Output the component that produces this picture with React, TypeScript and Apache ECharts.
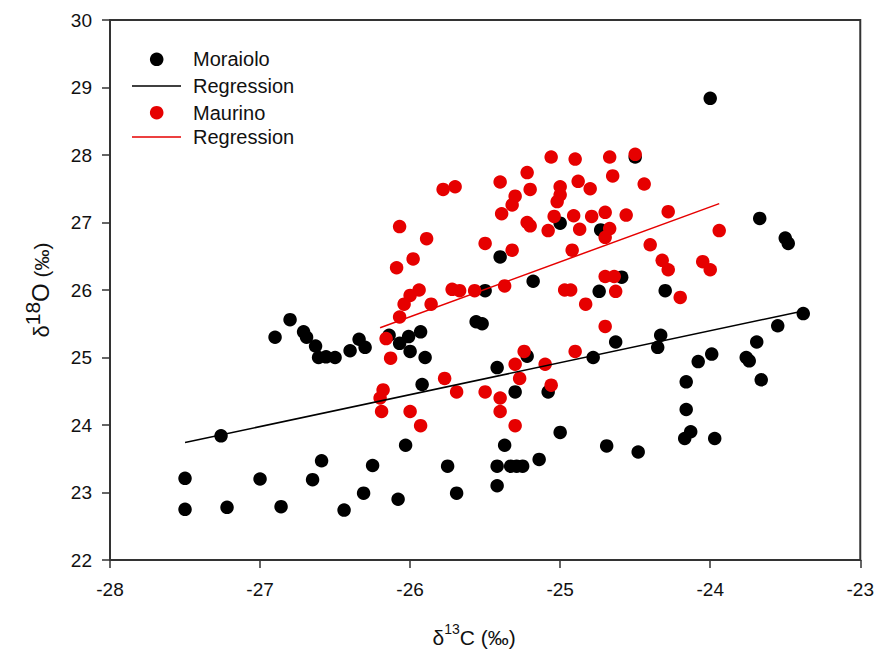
import React, { useEffect, useRef } from "react";
import * as echarts from "echarts";

const xTicks = [-28, -27, -26, -25, -24, -23];
const yTicks = [22, 23, 24, 25, 26, 27, 28, 29, 30];

const moraioloX = [
  -26.9, -26.8, -26.71, -26.69, -26.63, -26.61, -26.56, -26.5, -26.4, -26.34,
  -26.3, -26.14, -26.07, -26.01, -26.0, -25.93, -25.9, -25.92, -27.26, -27.5,
  -27.5, -27.22, -27.0, -26.86, -26.65, -26.59, -26.44, -26.31, -26.25, -26.08,
  -26.03, -25.75, -25.69, -25.42, -25.22, -25.3, -25.08, -24.78, -24.63, -25.37,
  -25.42, -25.33, -25.29, -25.25, -25.14, -25.42, -25.0, -24.69, -25.0, -25.4,
  -25.18, -25.5, -25.56, -25.52, -24.73, -24.74, -24.0, -24.5, -23.67, -23.5,
  -23.48, -24.59, -24.3, -23.38, -23.55, -23.69, -23.76, -23.74, -23.66, -23.99,
  -24.08, -24.16, -24.16, -24.13, -24.17, -23.97, -24.33, -24.35, -24.48,
];
const moraioloY = [
  25.3, 25.56, 25.38, 25.3, 25.17, 25.0, 25.01, 25.0, 25.1, 25.27,
  25.15, 25.33, 25.21, 25.31, 25.09, 25.38, 25.0, 24.6, 23.84, 23.21,
  22.75, 22.78, 23.2, 22.79, 23.19, 23.47, 22.74, 22.99, 23.4, 22.9,
  23.7, 23.39, 22.99, 24.85, 25.02, 24.49, 24.49, 25.0, 25.23, 23.7,
  23.39, 23.39, 23.39, 23.39, 23.49, 23.1, 23.89, 23.69, 26.99, 26.49,
  26.13, 25.99, 25.53, 25.5, 26.89, 25.98, 28.84, 27.97, 27.06, 26.77,
  26.69, 26.19, 25.99, 25.65, 25.47, 25.23, 25.0, 24.95, 24.67, 25.05,
  24.94, 24.64, 24.23, 23.9, 23.8, 23.8, 25.33, 25.15, 23.6,
];

const maurinoX = [
  -25.06, -24.9, -24.67, -24.65, -25.22, -25.4, -25.2, -24.88, -24.8, -25.78,
  -25.7, -25.0, -25.3, -25.32, -25.0, -25.02, -25.39, -25.04, -24.91, -24.79,
  -24.7, -25.22, -25.2, -25.08, -24.87, -24.67, -24.7, -26.07, -25.89, -26.09,
  -25.98, -25.5, -25.32, -24.92, -25.94, -26.0, -26.04, -25.86, -26.07, -26.16,
  -25.72, -25.67, -25.57, -25.37, -24.7, -24.64, -24.97, -24.93, -24.83, -24.63,
  -24.7, -24.5, -24.44, -24.56, -24.28, -23.94, -24.4, -24.32, -24.28, -24.05,
  -24.0, -24.2, -26.13, -26.18, -26.2, -26.19, -26.0, -25.93, -25.77, -25.69,
  -25.5, -25.4, -25.4, -25.3, -25.24, -25.3, -25.27, -25.1, -25.06, -24.9,
];
const maurinoY = [
  27.97, 27.94, 27.97, 27.69, 27.74, 27.6, 27.49, 27.61, 27.5, 27.49,
  27.53, 27.53, 27.39, 27.26, 27.41, 27.31, 27.13, 27.09, 27.1, 27.09,
  27.15, 27.0, 26.95, 26.88, 26.9, 26.91, 26.78, 26.94, 26.76, 26.33,
  26.46, 26.69, 26.59, 26.59, 26.0, 25.92, 25.79, 25.79, 25.6, 25.28,
  26.01, 25.99, 25.99, 26.06, 26.2, 26.2, 26.0, 26.0, 25.79, 25.98,
  25.46, 28.01, 27.57, 27.11, 27.16, 26.88, 26.67, 26.44, 26.3, 26.42,
  26.3, 25.89, 24.99, 24.52, 24.4, 24.2, 24.2, 23.99, 24.69, 24.49,
  24.49, 24.4, 24.2, 23.99, 25.09, 24.9, 24.69, 24.9, 24.59, 25.09,
];

// Regression line endpoints
const moraioloRegX = [-27.5, -23.38];
const moraioloRegY = [23.74, 25.69];
const maurinoRegX = [-26.2, -23.94];
const maurinoRegY = [25.44, 27.28];

const legendNames = ["Moraiolo", "Regression", "Maurino", "Regression"];

const FONT = "'Liberation Sans', Arial, sans-serif";
const RED = "#e60000";
const BLACK = "#000000";
const AXIS = "#333333";

function zip(xs: number[], ys: number[]) {
  return xs.map((x, i) => [x, ys[i]]);
}

export default function App() {
  const ref = useRef<HTMLDivElement>(null);
  useEffect(() => {
    if (!ref.current) return;
    const chart = echarts.init(ref.current, undefined, { renderer: "svg" });
    const legendX = 132;
    const legendTextX = 193;
    const rows = [59.3, 86, 112.7, 137];
    const graphic: any[] = [
      { type: "circle", shape: { cx: 156.7, cy: rows[0], r: 6.8 }, style: { fill: BLACK } },
      { type: "line", shape: { x1: legendX, y1: rows[1], x2: 181, y2: rows[1] }, style: { stroke: BLACK, lineWidth: 1.5 } },
      { type: "circle", shape: { cx: 156.7, cy: rows[2], r: 6.8 }, style: { fill: RED } },
      { type: "line", shape: { x1: legendX, y1: rows[3], x2: 181, y2: rows[3] }, style: { stroke: RED, lineWidth: 1.5 } },
    ];
    legendNames.forEach((name, i) => {
      graphic.push({
        type: "text",
        x: legendTextX,
        y: rows[i],
        style: {
          text: name,
          fontSize: 20,
          fontFamily: FONT,
          fill: "#111",
          verticalAlign: "middle",
          align: "left",
        },
      });
    });

    chart.setOption({
      animation: false,
      backgroundColor: "#ffffff",
      grid: {
        left: 110,
        right: 16,
        top: 20,
        bottom: 95,
        show: true,
        borderColor: AXIS,
        borderWidth: 2,
      },
      xAxis: {
        type: "value",
        min: xTicks[0],
        max: xTicks[xTicks.length - 1],
        interval: 1,
        name: "{d|δ}{s|13}{d|C (‰)}",
        nameLocation: "middle",
        nameGap: 62,
        nameTextStyle: {
          padding: [0, 22, 0, 0],
          rich: {
            d: { fontSize: 21, fontFamily: FONT, color: "#111", lineHeight: 26, verticalAlign: "bottom" },
            s: { fontSize: 14, fontFamily: FONT, color: "#111", lineHeight: 14, verticalAlign: "top" },
          },
        },
        axisLine: { show: true, lineStyle: { color: AXIS, width: 2 } },
        axisTick: { show: true, inside: false, length: 8, lineStyle: { color: AXIS, width: 1.5 } },
        axisLabel: { fontSize: 19, fontFamily: FONT, color: "#111", margin: 20 },
        splitLine: { show: false },
      },
      yAxis: {
        type: "value",
        min: yTicks[0],
        max: yTicks[yTicks.length - 1],
        interval: 1,
        name: "{d|δ}{s|18}{o|O}{p| (‰)}",
        nameLocation: "middle",
        nameGap: 58,
        nameRotate: 90,
        nameTextStyle: {
          rich: {
            d: { fontSize: 22, fontFamily: FONT, color: "#111", lineHeight: 30, verticalAlign: "bottom" },
            s: { fontSize: 21, fontFamily: FONT, color: "#111", lineHeight: 21, verticalAlign: "top" },
            o: { fontSize: 24, fontFamily: FONT, color: "#111", lineHeight: 30, verticalAlign: "bottom" },
            p: { fontSize: 21, fontFamily: FONT, color: "#111", lineHeight: 30, verticalAlign: "bottom" },
          },
        },
        axisLine: { show: true, lineStyle: { color: AXIS, width: 2 } },
        axisTick: { show: true, inside: false, length: 8, lineStyle: { color: AXIS, width: 1.5 } },
        axisLabel: { fontSize: 19, fontFamily: FONT, color: "#111", margin: 18 },
        splitLine: { show: false },
      },
      graphic,
      series: [
        {
          name: "Moraiolo",
          type: "scatter",
          symbol: "circle",
          symbolSize: 13.5,
          itemStyle: { color: BLACK, opacity: 1 },
          data: zip(moraioloX, moraioloY),
          z: 2,
        },
        {
          name: "Maurino",
          type: "scatter",
          symbol: "circle",
          symbolSize: 13.5,
          itemStyle: { color: RED, opacity: 1 },
          data: zip(maurinoX, maurinoY),
          z: 3,
        },
        {
          name: "Moraiolo regression",
          type: "line",
          showSymbol: false,
          symbol: "none",
          lineStyle: { color: BLACK, width: 1.5 },
          data: zip(moraioloRegX, moraioloRegY),
          z: 4,
        },
        {
          name: "Maurino regression",
          type: "line",
          showSymbol: false,
          symbol: "none",
          lineStyle: { color: RED, width: 1.5 },
          data: zip(maurinoRegX, maurinoRegY),
          z: 4,
        },
      ],
    });
    return () => chart.dispose();
  }, []);
  return (
    <div
      ref={ref}
      style={{ position: "absolute", left: 0, top: 0, width: 877, height: 655 }}
    />
  );
}
